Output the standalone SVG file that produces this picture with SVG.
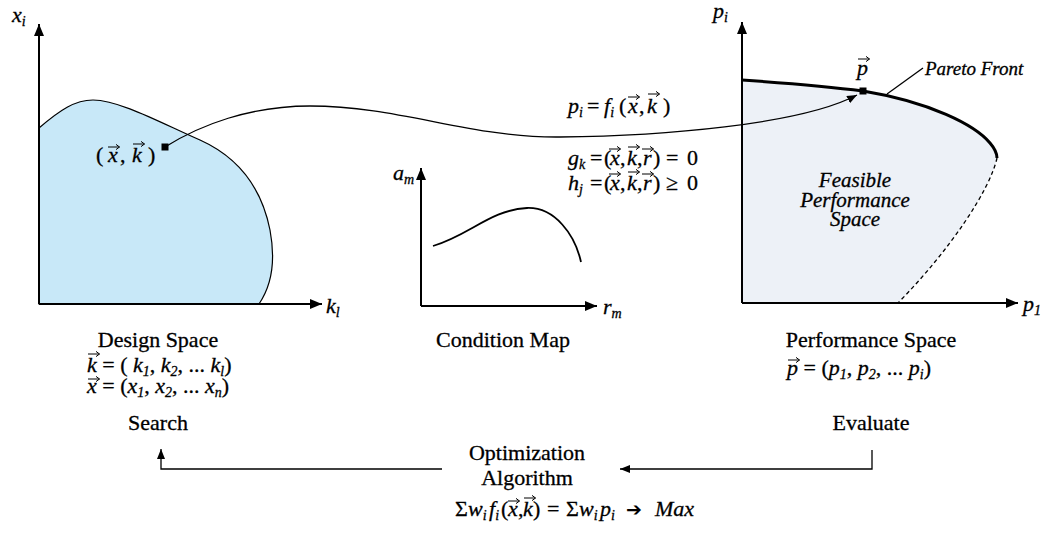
<svg xmlns="http://www.w3.org/2000/svg" width="1052" height="537" viewBox="0 0 1052 537" font-family="'Liberation Serif', Tinos, 'Times New Roman', serif">
<style>
.t{font-family:'Liberation Serif', Tinos, 'Times New Roman', serif;font-size:22px;fill:#000;stroke:#000;stroke-width:0.3}
.i{font-style:italic}
.s{font-size:14px}
.ax{fill:none;stroke:#000;stroke-width:2}
.ln{fill:none;stroke:#000;stroke-width:1.3}
</style>
<defs>
<marker id="ah" viewBox="0 0 12 10" refX="12" refY="5" markerWidth="12" markerHeight="10" markerUnits="userSpaceOnUse" orient="auto"><path d="M0,0 L12,5 L0,10 Z" fill="#000"/></marker>
<marker id="ahs" viewBox="0 0 10 8" refX="10" refY="4" markerWidth="10" markerHeight="8" markerUnits="userSpaceOnUse" orient="auto"><path d="M0,0 L10,4 L0,8 Z" fill="#000"/></marker>
<path id="vec" d="M0,0 H11.5 M8,-2.6 L11.5,0 L8,2.6" fill="none" stroke="#000" stroke-width="1"/>
</defs>
<rect width="1052" height="537" fill="#fff"/>

<g id="design-space">
<path d="M39,128 C60,110 75,100 93,100 C120,100 165,125 200,140 C240,158 262,190 270,230 C276,262 272,285 259,304 L39,304 Z" fill="#c8e8f8" stroke="#000" stroke-width="1.2"/>
<path class="ax" d="M39,304 V24" marker-end="url(#ah)"/>
<path class="ax" d="M39,304 H322" marker-end="url(#ah)"/>
<text class="t i" x="12" y="22">x<tspan class="s" dy="4">i</tspan></text>
<text class="t i" x="326" y="313">k<tspan class="s" dy="4">l</tspan></text>
<rect x="161.5" y="143.5" width="7" height="7" fill="#000"/>
<text class="t" x="96" y="162">(</text>
<text class="t i" x="108" y="162">x</text>
<text class="t" x="120" y="162">,</text>
<text class="t i" x="132" y="162">k</text>
<text class="t" x="148" y="162">)</text>
<use href="#vec" x="108" y="147"/>
<use href="#vec" x="133" y="144"/>
<text class="t" x="158" y="347" text-anchor="middle">Design Space</text>
<text class="t" x="87" y="372"><tspan class="i">k</tspan> = ( <tspan class="i">k</tspan><tspan class="s i" dy="4">1</tspan><tspan dy="-4">, </tspan><tspan class="i">k</tspan><tspan class="s i" dy="4">2</tspan><tspan dy="-4">, ... </tspan><tspan class="i">k</tspan><tspan class="s i" dy="4">l</tspan><tspan dy="-4">)</tspan></text>
<use href="#vec" x="88" y="354"/>
<text class="t" x="87" y="393"><tspan class="i">x</tspan> = (<tspan class="i">x</tspan><tspan class="s i" dy="4">1</tspan><tspan dy="-4">, </tspan><tspan class="i">x</tspan><tspan class="s i" dy="4">2</tspan><tspan dy="-4">, ... </tspan><tspan class="i">x</tspan><tspan class="s i" dy="4">n</tspan><tspan dy="-4">)</tspan></text>
<use href="#vec" x="88" y="379"/>
<text class="t" x="158" y="430" text-anchor="middle">Search</text>
</g>

<g id="condition-map">
<path class="ax" d="M421,306 V168" marker-end="url(#ah)"/>
<path class="ax" d="M421,306 H597" marker-end="url(#ah)"/>
<path d="M433,246 C470,235 490,210 527,208 C555,207 575,235 581,262" fill="none" stroke="#000" stroke-width="1.8"/>
<text class="t i" x="393" y="180">a<tspan class="s" dy="4">m</tspan></text>
<text class="t i" x="603" y="314">r<tspan class="s" dy="4">m</tspan></text>
<text class="t" x="503" y="347" text-anchor="middle">Condition Map</text>
</g>

<g id="formulas">
<text class="t i" x="568" y="113">p<tspan class="s" dy="4">i</tspan></text>
<text class="t" x="587" y="113">=</text>
<text class="t i" x="604" y="113">f<tspan class="s" dy="4">i</tspan></text>
<text class="t" x="619" y="113">(</text>
<text class="t i" x="628" y="113">x</text>
<text class="t" x="639" y="113">,</text>
<text class="t i" x="647" y="113">k</text>
<text class="t" x="663" y="113">)</text>
<use href="#vec" x="628" y="97"/>
<use href="#vec" x="648" y="94"/>

<text class="t i" x="568" y="165">g<tspan class="s" dy="4">k</tspan></text>
<text class="t" x="590" y="165">=</text>
<text class="t" x="604" y="165">(</text>
<text class="t i" x="610" y="165">x</text>
<text class="t" x="620" y="165">,</text>
<text class="t i" x="627" y="165">k</text>
<text class="t" x="637" y="165">,</text>
<text class="t i" x="643" y="165">r</text>
<text class="t" x="653" y="165">)</text>
<text class="t" x="666" y="165">=</text>
<text class="t" x="687" y="165">0</text>
<use href="#vec" x="609" y="149"/>
<use href="#vec" x="628" y="147"/>
<use href="#vec" x="642" y="149"/>

<text class="t i" x="568" y="190">h<tspan class="s" dy="4">j</tspan></text>
<text class="t" x="590" y="190">=</text>
<text class="t" x="604" y="190">(</text>
<text class="t i" x="610" y="190">x</text>
<text class="t" x="620" y="190">,</text>
<text class="t i" x="627" y="190">k</text>
<text class="t" x="637" y="190">,</text>
<text class="t i" x="643" y="190">r</text>
<text class="t" x="653" y="190">)</text>
<text class="t" x="666" y="190">≥</text>
<text class="t" x="687" y="190">0</text>
<use href="#vec" x="609" y="174"/>
<use href="#vec" x="628" y="172"/>
<use href="#vec" x="642" y="174"/>
</g>

<g id="performance-space">
<path d="M742,80 C800,84 840,88 863,91 C930,102 975,125 990,143 C996,150 997,155 997,158 C990,190 950,250 898,303 L742,303 Z" fill="#edf1f7"/>
<path d="M742,80 C800,84 840,88 863,91 C930,102 975,125 990,143 C996,150 997,155 997,158" fill="none" stroke="#000" stroke-width="3"/>
<path d="M997,158 C990,190 950,250 898,303" fill="none" stroke="#000" stroke-width="1.3" stroke-dasharray="4,3"/>
<path class="ax" d="M742,303 V22" marker-end="url(#ah)"/>
<path class="ax" d="M742,303 H1018" marker-end="url(#ah)"/>
<text class="t i" x="713" y="18">p<tspan class="s" dy="4">i</tspan></text>
<text class="t i" x="1023" y="311">p<tspan class="s" dy="4">1</tspan></text>
<rect x="859.5" y="87.5" width="7" height="7" fill="#000"/>
<text class="t i" x="857" y="75">p</text>
<use href="#vec" x="858" y="59"/>
<path class="ln" d="M887,94 L923,68"/>
<text class="t i" x="925" y="75" style="font-size:19px">Pareto Front</text>
<text class="t i" x="855" y="187" text-anchor="middle" style="font-size:21px">Feasible</text>
<text class="t i" x="855" y="207" text-anchor="middle" style="font-size:21px">Performance</text>
<text class="t i" x="855" y="226" text-anchor="middle" style="font-size:21px">Space</text>
<text class="t" x="871" y="347" text-anchor="middle">Performance Space</text>
<text class="t" x="787" y="375"><tspan class="i">p</tspan> = (<tspan class="i">p</tspan><tspan class="s i" dy="4">1</tspan><tspan dy="-4">, </tspan><tspan class="i">p</tspan><tspan class="s i" dy="4">2</tspan><tspan dy="-4">, ... </tspan><tspan class="i">p</tspan><tspan class="s i" dy="4">i</tspan><tspan dy="-4">)</tspan></text>
<use href="#vec" x="788" y="360"/>
<text class="t" x="871" y="430" text-anchor="middle">Evaluate</text>
</g>

<g id="optimization">
<text class="t" x="527" y="460" text-anchor="middle">Optimization</text>
<text class="t" x="527" y="485" text-anchor="middle">Algorithm</text>
<text class="t" x="455" y="516">Σ</text>
<text class="t i" x="468" y="516">w<tspan class="s" dy="4">i</tspan></text>
<text class="t i" x="489" y="516">f<tspan class="s" dy="4">i</tspan></text>
<text class="t" x="501" y="516">(</text>
<text class="t i" x="508" y="516">x</text>
<text class="t" x="518" y="516">,</text>
<text class="t i" x="523" y="516">k</text>
<text class="t" x="533" y="516">)</text>
<text class="t" x="547" y="516">=</text>
<text class="t" x="566" y="516">Σ</text>
<text class="t i" x="579" y="516">w<tspan class="s" dy="4">i</tspan></text>
<text class="t i" x="600" y="516">p<tspan class="s" dy="4">i</tspan></text>
<text x="626" y="516" style="font-family:'DejaVu Sans',sans-serif;font-size:19px">➔</text>
<text class="t i" x="655" y="516">Max</text>
<use href="#vec" x="508" y="501"/>
<use href="#vec" x="524" y="498"/>
</g>

<g id="connectors">
<path class="ln" d="M165,147 C200,125 250,106 310,106 C400,106 470,138 560,137 C660,136 800,125 857,95" marker-end="url(#ahs)"/>
<path class="ln" d="M442,469 H161 V449" marker-end="url(#ahs)"/>
<path class="ln" d="M872,450 V469 H620" marker-end="url(#ahs)"/>
</g>
</svg>
